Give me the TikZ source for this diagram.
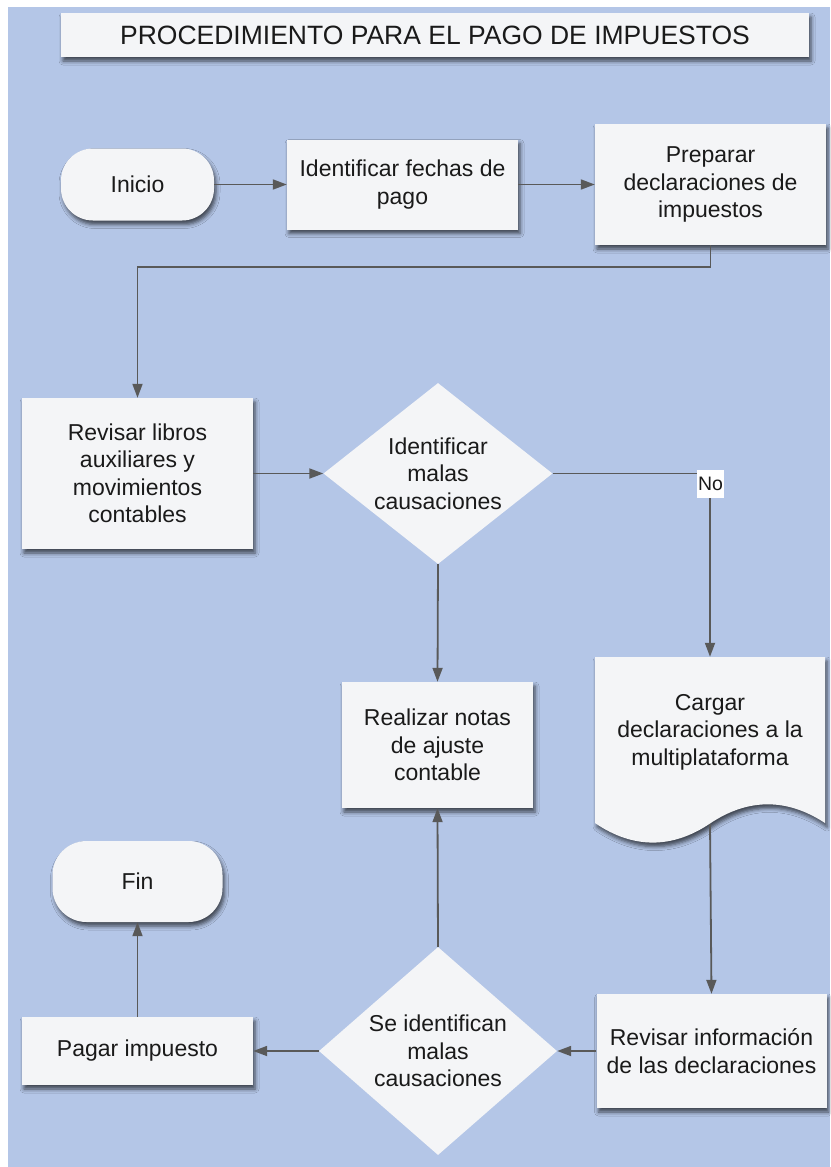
\documentclass[tikz,border=0pt]{standalone}
\usepackage{fontspec}
\setmainfont{Liberation Sans}
\usetikzlibrary{shapes.geometric, arrows.meta, shadows.blur}

\definecolor{pagebg}{HTML}{B4C6E7}
\definecolor{boxfill}{HTML}{F4F5F7}
\definecolor{linegray}{HTML}{595959}
\definecolor{inkdark}{HTML}{1A1A1A}

\begin{document}
\begin{tikzpicture}[x=1pt, y=-1pt,
  softshadow/.style={blur shadow={shadow xshift=2pt, shadow yshift=-4pt,
      shadow blur radius=4pt, shadow opacity=65}},
  txt/.style={font=\fontsize{23}{27.5}\selectfont, text=inkdark, align=center},
  procbox/.style={txt, rectangle, fill=boxfill, softshadow, inner sep=0pt},
  termbox/.style={txt, rectangle, rounded corners=32pt, fill=boxfill, softshadow, inner sep=0pt},
  decbox/.style={diamond, fill=boxfill, inner sep=0pt},
  conn/.style={draw=linegray, line width=1.8pt, -{Triangle[length=14pt,width=10pt]}},
  nolabel/.style={fill=white, font=\fontsize{19.5}{21}\selectfont, text=inkdark,
      inner sep=1.5pt, minimum height=28pt},
]
\useasboundingbox (0,0) rectangle (830,1167);
\fill[pagebg] (8,7) rectangle (830,1167);

% heading
\node[procbox, font=\fontsize{26.5}{30}\selectfont, minimum width=748pt, minimum height=44pt]
  (title) at (435,35) {PROCEDIMIENTO PARA EL PAGO DE IMPUESTOS};

% top row
\node[termbox, minimum width=153pt, minimum height=72pt] (inicio) at (137.5,184.5) {Inicio};
\node[procbox, minimum width=231pt, minimum height=90pt] (fechas) at (402.5,184.5)
  {Identificar fechas de\\pago};
\node[procbox, minimum width=231pt, minimum height=121pt] (preparar) at (710.5,184.5)
  {Preparar\\declaraciones de\\impuestos};

% review row
\node[procbox, minimum width=231pt, minimum height=151pt] (revlib) at (137.5,473.5)
  {Revisar libros\\auxiliares y\\movimientos\\contables};
\node[decbox, minimum width=229pt, minimum height=181pt] (diam1) at (438,473.5) {};
\node[txt] (diam1-text) at (438,473.5) {Identificar\\malas\\causaciones};

% document shape with wavy bottom
\path[fill=boxfill, softshadow] (595,657) -- (825,657) -- (825,823)
  .. controls (787,798) and (748,798) .. (710,823.5)
  .. controls (672,849) and (633,849) .. (595,823) -- cycle;
\node[txt, minimum width=230pt, minimum height=150pt, inner sep=0pt] (cargar) at (710,732)
  {Cargar\\declaraciones a la\\multiplataforma};
\coordinate (cargar-foot) at (710,824);

\node[procbox, minimum width=191pt, minimum height=126pt] (notas) at (437.5,745)
  {Realizar notas\\de ajuste\\contable};

% bottom row
\node[termbox, rounded corners=34pt, minimum width=170pt, minimum height=81pt] (fin) at (137.5,881.5) {Fin};
\node[procbox, minimum width=231pt, minimum height=68pt] (pagar) at (137.5,1051) {Pagar impuesto};
\node[decbox, minimum width=238pt, minimum height=208pt] (diam2) at (438,1051) {};
\node[txt] (diam2-text) at (438,1051) {Se identifican\\malas\\causaciones};
\node[procbox, minimum width=230pt, minimum height=114pt] (revinfo) at (711.5,1051)
  {Revisar información\\de las declaraciones};

% connectors
\draw[conn] (inicio.east) -- (fechas.west);
\draw[conn] (fechas.east) -- (preparar.west);
\draw[conn] (preparar.south) -- ++(0,21.5) -| (revlib.north);
\draw[conn] (revlib.east) -- (diam1.west);
\draw[conn] (diam1.east) -| (cargar.north);
\node[nolabel] (no) at (710.5,484) {No};
\draw[conn] (diam1.south) -- (notas.north);
\draw[conn] (diam2.north) -- (notas.south);
\draw[conn] (cargar-foot) -- (revinfo.north);
\draw[conn] (revinfo.west) -- (diam2.east);
\draw[conn] (diam2.west) -- (pagar.east);
\draw[conn] (pagar.north) -- (fin.south);
\end{tikzpicture}
\end{document}
